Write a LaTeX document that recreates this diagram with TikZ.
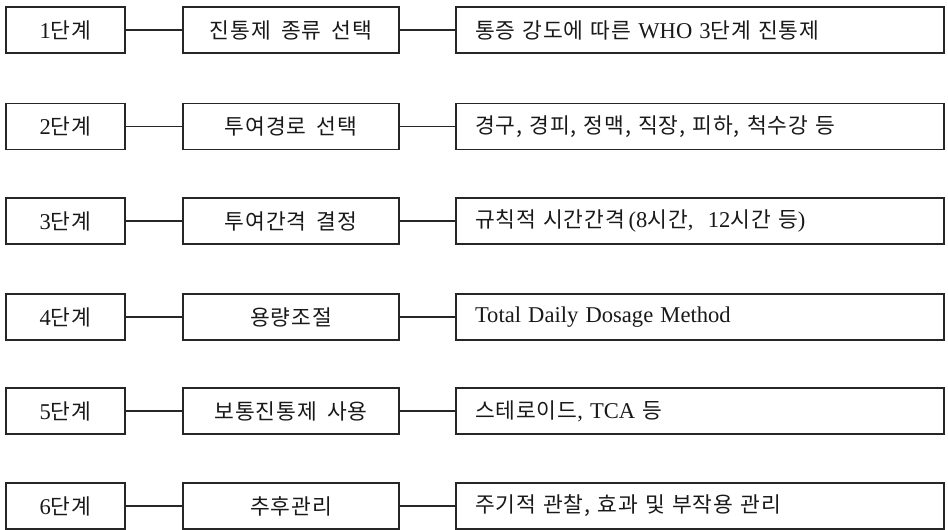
\documentclass[tikz,border=0pt]{standalone}
\usepackage{fontspec}
\setmainfont{Noto Sans CJK KR}[LetterSpace=4,WordSpace=1.8]
\newfontfamily\lat{Liberation Serif}[Scale=1.05]
\begin{document}
\begin{tikzpicture}[x=1pt,y=-1pt,
  box/.style={draw=black!85,line width=1.1pt,minimum height=46pt,inner sep=0pt,font=\fontsize{21.5}{24}\selectfont,text=black!90},
  stagebox/.style={box,minimum width=119pt},
  taskbox/.style={box,minimum width=216pt},
  notebox/.style={box,minimum width=488pt,text width=450pt,inner xsep=19pt,align=left},
  link/.style={draw=black!85,line width=1.1pt}]
\useasboundingbox (0,0) rectangle (948,530);
\foreach \i/\y/\a/\b/\c in {
  1/30/{{\lat 1}단계}/{진통제 종류 선택}/{통증 강도에 따른 {\lat WHO 3}단계 진통제},
  2/126.5/{{\lat 2}단계}/{투여경로 선택}/{경구, 경피, 정맥, 직장, 피하, 척수강 등},
  3/221/{{\lat 3}단계}/{투여간격 결정}/{규칙적 시간간격{\lat\,(8}시간{\lat,\ \ 12}시간 등{\lat)}},
  4/317/{{\lat 4}단계}/{용량조절}/{{\lat Total Daily Dosage Method}},
  5/411/{{\lat 5}단계}/{보통진통제 사용}/{스테로이드{\lat, TCA }등},
  6/506/{{\lat 6}단계}/{추후관리}/{주기적 관찰, 효과 및 부작용 관리}} {
  \node[stagebox] (s\i) at (65.5,\y) {\a};
  \node[taskbox] (t\i) at (291,\y) {\b};
  \node[notebox] (n\i) at (700,\y) {\c};
  \draw[link] (s\i.east) -- (t\i.west);
  \draw[link] (t\i.east) -- (n\i.west);
}
\end{tikzpicture}
\end{document}
